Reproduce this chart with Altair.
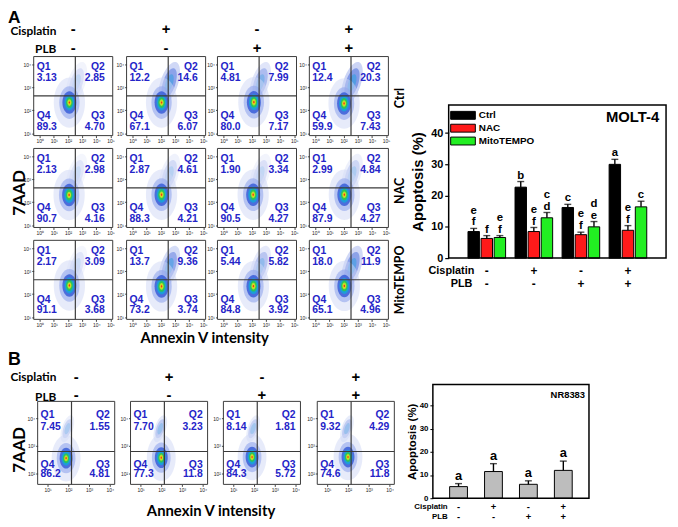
import altair as alt
import pandas as pd

# ---------------- data ----------------
treatments = ["Ctrl", "NAC", "MitoTEMPO"]
conditions = ["1", "2", "3", "4"]
cisplatin = ["-", "+", "-", "+"]
plb = ["-", "-", "+", "+"]

# Panel A flow cytometry quadrant percentages (rows: Ctrl, NAC, MitoTEMPO)
a_q1 = [[3.13, 12.2, 4.81, 12.4], [2.13, 2.87, 1.90, 2.99], [2.17, 13.7, 5.44, 18.0]]
a_q2 = [[2.85, 14.6, 7.99, 20.3], [2.98, 4.61, 3.34, 4.84], [3.09, 9.36, 5.82, 11.9]]
a_q3 = [[4.70, 6.07, 7.17, 7.43], [4.16, 4.21, 4.27, 4.27], [3.68, 3.74, 3.92, 4.96]]
a_q4 = [[89.3, 67.1, 80.0, 59.9], [90.7, 88.3, 90.5, 87.9], [91.1, 73.2, 84.8, 65.1]]
# estimated centre of the main population and strength of the upper (apoptotic) cloud
a_core_x = [[2.10, 2.05, 2.15, 2.03], [2.08, 2.05, 2.10, 2.05], [2.10, 2.05, 2.12, 2.05]]
a_core_y = [[2.34, 2.34, 2.36, 2.30], [2.32, 2.33, 2.33, 2.33], [2.38, 2.34, 2.35, 2.36]]
a_upper = [[0.25, 0.9, 0.6, 1.0], [0.2, 0.3, 0.25, 0.35], [0.2, 0.8, 0.5, 0.9]]

# Panel B flow cytometry (NR8383)
b_q1 = [7.45, 7.70, 8.14, 9.32]
b_q2 = [1.55, 3.23, 1.81, 4.29]
b_q3 = [4.81, 11.8, 5.72, 11.8]
b_q4 = [86.2, 77.3, 84.3, 74.6]
b_core_x = [1.89, 2.00, 1.90, 2.00]
b_core_y = [2.56, 2.58, 2.60, 2.60]
b_upper = [0.35, 0.45, 0.40, 0.45]

# MOLT-4 apoptosis (%)
molt_ctrl = [8.5, 22.7, 16.2, 30.0]
molt_nac = [6.3, 8.5, 7.5, 8.9]
molt_mito = [6.6, 12.9, 10.0, 16.4]
molt_ctrl_err = [1.0, 1.8, 1.0, 1.6]
molt_nac_err = [0.9, 1.3, 0.8, 1.5]
molt_mito_err = [0.6, 1.7, 1.7, 1.8]
molt_ctrl_let = ["e\nf", "b", "c", "a"]
molt_nac_let = ["f", "e\nf", "e\nf", "e\nf"]
molt_mito_let = ["e\nf", "c\nd", "d\ne", "c"]

# NR8383 apoptosis (%)
nr_mean = [5.0, 11.5, 6.0, 12.0]
nr_err = [1.3, 3.4, 1.5, 4.0]
nr_let = ["a", "a", "a", "a"]

# ---------------- layout / styles ----------------
W, H = 670, 519          # canvas size
M = 8                    # page margin: canvas coord = page coord - M
NUM_FONT = "Liberation Sans"
FLOW_FONT = "Lato"
QCOL = "#2424c8"
SUP = "'10' + ['\u2070','\u00b9','\u00b2','\u00b3','\u2074','\u2075'][datum.value]"
ELL = "M-0.62,0A0.62,1,0,1,0,0.62,0A0.62,1,0,1,0,-0.62,0Z"
ELL_NARROW = "M-0.4,0A0.4,1,0,1,0,0.4,0A0.4,1,0,1,0,-0.4,0Z"
BLOB = [(2600, "#d0d8f6", 0.5), (1100, "#93a6ec", 0.6), (520, "#3a5ed8", 0.85),
        (260, "#1aa0d8", 0.95), (120, "#2cc45a", 1.0), (45, "#b6e02a", 1.0),
        (16, "#f2d21e", 1.0), (6, "#e63b1a", 1.0)]
UPPER = [(2000, "#a8b7ee", 0.6), (1000, "#5474de", 0.6), (350, "#2a9ee0", 0.55)]

GEOM_A = dict(w=80, h=80, xdom=[-0.42, 5.16], ydom=[0.9, 4.35], xvals=[0, 1, 2, 3, 4, 5],
              yvals=[1, 2, 3, 4], qx=2.52, qy=2.63, tl=3, tr=72, ty=[11, 22, 60, 71],
              blob=1.0, ublob=1.0, ux=2.59, uy=3.19)
GEOM_B = dict(w=78, h=84, xdom=[0.52, 4.23], ydom=[1.62, 4.6], xvals=[1, 2, 3, 4],
              yvals=[2, 3, 4], qx=2.15, qy=2.8, tl=3, tr=73, ty=[14, 26, 64, 74],
              blob=0.85, ublob=0.4, ux=1.95, uy=3.62)
A_X0 = [34, 128, 220, 313]
A_Y0 = [54, 147, 240]
B_X0 = [38, 132, 226, 321]
B_Y0 = 403


def label(text, x, y, size, font=FLOW_FONT, angle=0, align="center", baseline="middle"):
    """free text placed at page coordinates (x, y)"""
    return alt.Chart(pd.DataFrame({"t": [text]})).mark_text(
        font=font, fontSize=size, fontWeight="bold", angle=angle, align=align,
        baseline=baseline, color="black").encode(text="t:N", x=alt.value(x - M), y=alt.value(y - M))


def flow_panel(rec, g, x0, y0):
    cx0, cy0 = x0 - M, y0 - M
    w, h = g["w"], g["h"]
    df = pd.DataFrame([rec])
    base = alt.Chart(df)
    ax = dict(labelExpr=SUP, labelFontSize=5, labelColor="#222", tickSize=2, tickColor="#444",
              domain=False, grid=False, labelPadding=1, labelFlush=False, labelOverlap=False,
              title=None)
    xaxis = alt.Axis(values=g["xvals"], orient="bottom", offset=(cy0 + h) - H, **ax)
    yaxis = alt.Axis(values=g["yvals"], orient="left", offset=-cx0, **ax)
    xs = alt.Scale(domain=g["xdom"], range=[cx0, cx0 + w], nice=False, zero=False)
    ys = alt.Scale(domain=g["ydom"], range=[cy0 + h, cy0], nice=False, zero=False)

    def X(f):
        return alt.X(f"{f}:Q", scale=xs, axis=xaxis, title=None)

    def Y(f):
        return alt.Y(f"{f}:Q", scale=ys, axis=yaxis, title=None)

    layers = []
    for s, c, o in UPPER:
        layers.append(base.transform_calculate(o=f"datum.up*{o}").mark_point(
            filled=True, shape=ELL_NARROW, size=s * g["ublob"], color=c, angle=18,
            strokeWidth=0).encode(x=X("ux"), y=Y("uy"), opacity=alt.Opacity("o:Q", scale=None)))
    for s, c, o in BLOB:
        layers.append(base.mark_point(filled=True, shape=ELL, size=s * g["blob"], color=c,
                                      opacity=o, strokeWidth=0).encode(x=X("cx"), y=Y("cy")))
    layers.append(base.mark_rect(filled=False, stroke="#3a3a3a", strokeWidth=1).encode(
        x=alt.datum(g["xdom"][0]), x2=alt.datum(g["xdom"][1]),
        y=alt.datum(g["ydom"][0]), y2=alt.datum(g["ydom"][1])))
    layers.append(base.mark_rule(color="#3a3a3a", strokeWidth=1.2).encode(
        x=alt.datum(g["qx"]), y=alt.datum(g["ydom"][0]), y2=alt.datum(g["ydom"][1])))
    layers.append(base.mark_rule(color="#3a3a3a", strokeWidth=1.2).encode(
        y=alt.datum(g["qy"]), x=alt.datum(g["xdom"][0]), x2=alt.datum(g["xdom"][1])))
    tprops = dict(font=NUM_FONT, fontSize=10.5, fontWeight="bold", color=QCOL, baseline="middle")
    spots = [("Q1", "q1", g["tl"], "left", 0, 1), ("Q2", "q2", g["tr"], "right", 0, 1),
             ("Q4", "q4", g["tl"], "left", 2, 3), ("Q3", "q3", g["tr"], "right", 2, 3)]
    for name, field, tx, al, i0, i1 in spots:
        layers.append(base.mark_text(text=name, align=al, **tprops).encode(
            x=alt.value(cx0 + tx), y=alt.value(cy0 + g["ty"][i0])))
        layers.append(base.mark_text(align=al, **tprops).encode(
            x=alt.value(cx0 + tx), y=alt.value(cy0 + g["ty"][i1]),
            text=alt.Text(f"{field}:Q", format=".3r")))
    return alt.layer(*layers)


charts = []
texts = []

# ---------------- panel A flow grid ----------------
for r in range(3):
    for c in range(4):
        rec = dict(q1=a_q1[r][c], q2=a_q2[r][c], q3=a_q3[r][c], q4=a_q4[r][c],
                   cx=a_core_x[r][c], cy=a_core_y[r][c], ux=GEOM_A["ux"], uy=GEOM_A["uy"],
                   up=a_upper[r][c])
        charts.append(flow_panel(rec, GEOM_A, A_X0[c], A_Y0[r]))
for c in range(4):
    texts += [label(cisplatin[c], A_X0[c] + 40, 26, 15, font=NUM_FONT),
              label(plb[c], A_X0[c] + 40, 45, 15, font=NUM_FONT)]
texts += [label("A", 8, 20.5, 17.5, font=NUM_FONT, align="left", baseline="alphabetic"),
          label("Cisplatin", 57, 28.5, 12, align="right"),
          label("PLB", 57, 46, 12, align="right"),
          label("7AAD", 20, 192, 17, angle=270),
          label("Annexin V intensity", 207, 339, 15)]
for r, yc in enumerate([96, 190, 280]):
    texts.append(label(treatments[r], 405, yc, 12.5, angle=270))

# ---------------- panel B flow row ----------------
for c in range(4):
    rec = dict(q1=b_q1[c], q2=b_q2[c], q3=b_q3[c], q4=b_q4[c], cx=b_core_x[c], cy=b_core_y[c],
               ux=GEOM_B["ux"], uy=GEOM_B["uy"], up=b_upper[c])
    charts.append(flow_panel(rec, GEOM_B, B_X0[c], B_Y0))
    texts += [label(cisplatin[c], B_X0[c] + 39, 378, 15, font=NUM_FONT),
              label(plb[c], B_X0[c] + 39, 397, 15, font=NUM_FONT)]
texts += [label("B", 8, 366, 18, font=NUM_FONT, align="left", baseline="alphabetic"),
          label("Cisplatin", 57, 378, 12, align="right"),
          label("PLB", 57, 399, 12, align="right"),
          label("7AAD", 20, 452, 17, angle=270),
          label("Annexin V intensity", 213.5, 514, 15)]

# ---------------- panel A bar chart (MOLT-4) ----------------
ax0, ax1, ay0, ay1 = 454, 674, 103, 258     # plot frame, page coords
letters_a = molt_ctrl_let + molt_nac_let + molt_mito_let
dfA = pd.DataFrame({
    "cond": conditions * 3,
    "treat": [t for t in treatments for _ in conditions],
    "value": molt_ctrl + molt_nac + molt_mito,
    "err": molt_ctrl_err + molt_nac_err + molt_mito_err,
    "let_bot": [s.split("\n")[-1] for s in letters_a],
    "let_top": [s.split("\n")[0] if "\n" in s else "" for s in letters_a],
})
baseA = alt.Chart(dfA).transform_calculate(top="datum.value + datum.err")
xA = alt.X("cond:N", scale=alt.Scale(range=[ax0 - M, ax1 - M], paddingInner=0, paddingOuter=0.31),
           axis=None)
xoA = alt.XOffset("treat:N", sort=treatments, scale=alt.Scale(paddingInner=0.125, paddingOuter=0.36))
ysA = alt.Scale(domain=[0, 49], range=[ay1 - M, ay0 - M], nice=False)
yA = alt.Y("value:Q", scale=ysA, title="Apoptosis (%)",
           axis=alt.Axis(values=[0, 10, 20, 30, 40], orient="left", offset=-(ax0 - M),
                         labelFont=NUM_FONT, labelFontSize=11, labelFontWeight="bold",
                         labelColor="black", tickSize=4, tickColor="black", tickWidth=1.2,
                         domain=False, grid=False, labelPadding=2, titleFont=NUM_FONT,
                         titleFontSize=15, titleFontWeight="bold", titleColor="black",
                         titlePadding=5))
RECT = "M-2,-0.64H2V0.64H-2Z"
barsA = baseA.mark_bar(stroke="black", strokeWidth=1).encode(
    x=xA, xOffset=xoA, y=yA,
    color=alt.Color("treat:N", sort=treatments,
                    scale=alt.Scale(domain=treatments, range=["#000000", "#ff1a1a", "#22ee22"]),
                    legend=alt.Legend(orient="none", legendX=461.5 - M, legendY=106.5 - M,
                                      title=None, symbolType=RECT, symbolSize=156,
                                      symbolStrokeColor="black", symbolStrokeWidth=1,
                                      symbolOpacity=1, labelFont=NUM_FONT, labelFontSize=10,
                                      labelFontWeight="bold", labelColor="black",
                                      rowPadding=0, labelOffset=9)))
frameA = alt.Chart(pd.DataFrame({"a": [0]})).mark_rect(filled=False, stroke="black", strokeWidth=1.5).encode(
    x=alt.value(ax0 - M), x2=alt.value(ax1 - M), y=alt.datum(0), y2=alt.datum(49))
errA = baseA.mark_rule(color="black", strokeWidth=1.4).encode(x=xA, xOffset=xoA, y="value:Q", y2="top:Q")
capA = baseA.mark_tick(color="black", thickness=1.4, size=7).encode(x=xA, xOffset=xoA, y="top:Q")
letprops = dict(font=NUM_FONT, fontSize=11.5, fontWeight="bold", baseline="alphabetic")
letA1 = baseA.mark_text(dy=-3, **letprops).encode(x=xA, xOffset=xoA, y="top:Q", text="let_bot:N")
letA2 = baseA.mark_text(dy=-15, **letprops).encode(x=xA, xOffset=xoA, y="top:Q", text="let_top:N")
signsA = alt.Chart(pd.DataFrame({"cond": conditions, "cis": cisplatin, "plb": plb}))
cisA = signsA.mark_text(font=NUM_FONT, fontSize=12, fontWeight="bold").encode(
    x=xA, y=alt.value(271 - M), text="cis:N")
plbA = signsA.mark_text(font=NUM_FONT, fontSize=12, fontWeight="bold").encode(
    x=xA, y=alt.value(284 - M), text="plb:N")
charts.append(alt.layer(barsA, frameA, errA, capA, letA1, letA2, cisA, plbA))
texts += [label("Cisplatin", 480, 271, 11, font=NUM_FONT, align="right"),
          label("PLB", 478, 284, 11, font=NUM_FONT, align="right"),
          label("MOLT-4", 667, 115, 15, font=NUM_FONT, align="right")]

# ---------------- panel B bar chart (NR8383) ----------------
bx0, bx1, by0, by1 = 438, 596, 386, 501
dfB = pd.DataFrame({"cond": conditions, "value": nr_mean, "err": nr_err, "letter": nr_let,
                    "cis": cisplatin, "plb": plb})
baseB = alt.Chart(dfB).transform_calculate(top="datum.value + datum.err")
xB = alt.X("cond:N", scale=alt.Scale(range=[bx0 - M, bx1 - M], paddingInner=0.49, paddingOuter=0.48),
           axis=None)
yB = alt.Y("value:Q", scale=alt.Scale(domain=[0, 49], range=[by1 - M, by0 - M], nice=False),
           title="Apoptosis (%)",
           axis=alt.Axis(values=[0, 10, 20, 30, 40], orient="left", offset=-(bx0 - M),
                         labelFont=NUM_FONT, labelFontSize=8, labelFontWeight="bold",
                         labelColor="black", tickSize=3, tickColor="black", domain=False,
                         grid=False, labelPadding=2, titleFont=NUM_FONT, titleFontSize=11.5,
                         titleFontWeight="bold", titleColor="black", titlePadding=2))
barsB = baseB.mark_bar(color="#bdbdbd", stroke="black", strokeWidth=1).encode(x=xB, y=yB)
frameB = alt.Chart(pd.DataFrame({"a": [0]})).mark_rect(filled=False, stroke="black", strokeWidth=1.5).encode(
    x=alt.value(bx0 - M), x2=alt.value(bx1 - M), y=alt.datum(0), y2=alt.datum(49))
errB = baseB.mark_rule(color="black", strokeWidth=1.4).encode(x=xB, y="value:Q", y2="top:Q")
capB = baseB.mark_tick(color="black", thickness=1.4, size=7).encode(x=xB, y="top:Q")
letB = baseB.mark_text(font=NUM_FONT, fontSize=13, fontWeight="bold", baseline="alphabetic", dy=-4).encode(
    x=xB, y="top:Q", text="letter:N")
cisB = baseB.mark_text(font=NUM_FONT, fontSize=9.5, fontWeight="bold").encode(
    x=xB, y=alt.value(510 - M), text="cis:N")
plbB = baseB.mark_text(font=NUM_FONT, fontSize=9.5, fontWeight="bold").encode(
    x=xB, y=alt.value(520 - M), text="plb:N")
charts.append(alt.layer(barsB, frameB, errB, capB, letB, cisB, plbB))
texts += [label("Cisplatin", 453, 510, 8, font=NUM_FONT, align="right"),
          label("PLB", 453, 520, 8, font=NUM_FONT, align="right"),
          label("NR8383", 592, 397, 9.5, font=NUM_FONT, align="right")]

chart = alt.layer(*charts, *texts).resolve_scale(
    x="independent", y="independent", color="independent"
).properties(
    width=W, height=H, padding=0, autosize=alt.AutoSizeParams(type="none")
).configure(font=NUM_FONT).configure_view(stroke="transparent")

chart.save("out.html", embed_options={"renderer": "svg", "actions": False})
